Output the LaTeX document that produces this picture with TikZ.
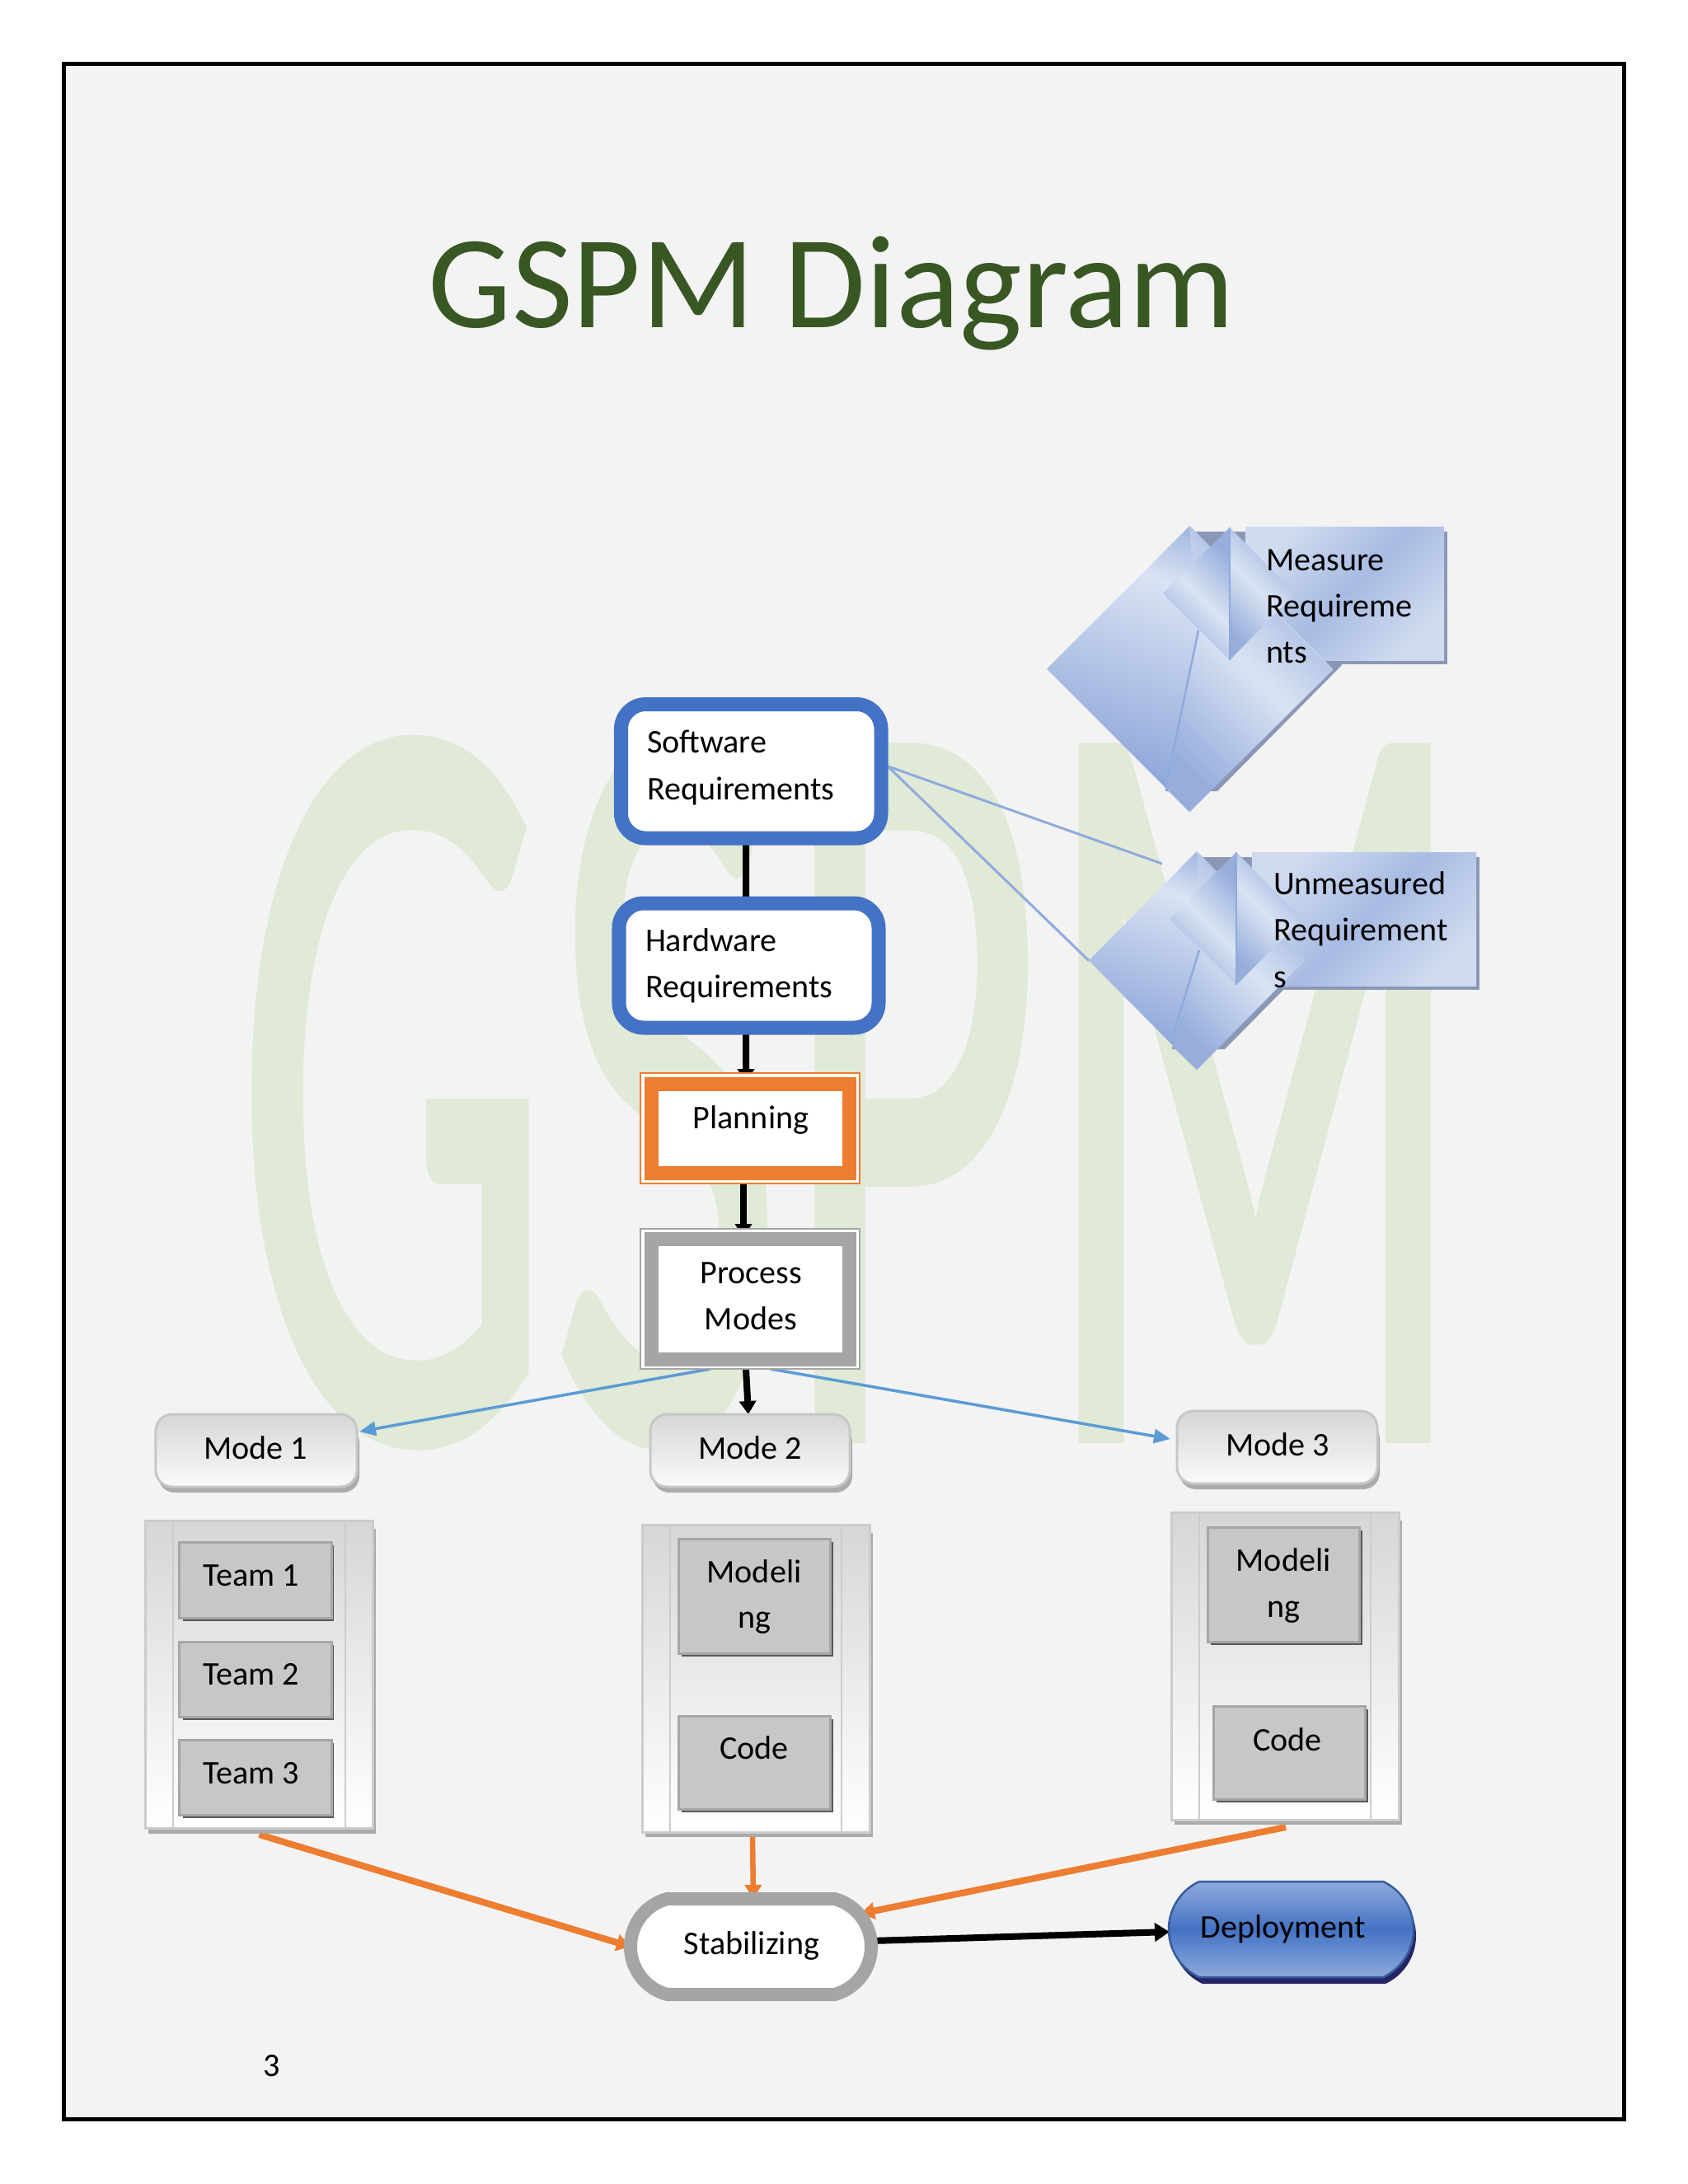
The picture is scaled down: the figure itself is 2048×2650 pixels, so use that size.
\documentclass[tikz,border=0pt]{standalone}
\usepackage{fontspec}
\setmainfont{Carlito}
\usetikzlibrary{arrows.meta,calc,shapes.geometric,shapes.misc}
\pgfdeclarelayer{bg}\pgfdeclarelayer{arrows}\pgfsetlayers{bg,arrows,main}
\definecolor{pagebg}{HTML}{F3F3F4}
\definecolor{wm}{HTML}{E0EAD7}
\definecolor{titlec}{HTML}{385723}
\definecolor{bluebd}{HTML}{4472C4}
\definecolor{orng}{HTML}{ED7D31}
\definecolor{gry}{HTML}{A5A5A5}
\definecolor{dlt}{HTML}{DAE3F3}
\definecolor{ddk}{HTML}{97AEDD}
\definecolor{dend}{HTML}{8AA3D9}
\definecolor{dsh}{HTML}{8A98B5}
\definecolor{lnk}{HTML}{8FAADC}
\definecolor{arrb}{HTML}{5B9BD5}
\pgfdeclareverticalshading{dleft}{100bp}{color(0bp)=(dend); color(27bp)=(dend); color(63bp)=(dlt); color(75bp)=(ddk); color(100bp)=(ddk)}
\newcommand{\bx}[6]{\pgfmathsetmacro\bw{(#5-#3)*0.01}\pgfmathsetmacro\bh{(#6-#4)*0.01}\node[#1,minimum width=\bw cm,minimum height=\bh cm] (#2) at ({(#3+#5)/2},{(#4+#6)/2}) {};}
\newcommand{\tx}[5]{\node[txt,anchor=#2] (#1) at (#3,#4) {#5};}
\tikzset{
  base/.style={inner sep=0pt,outer sep=0pt,rectangle},
  txt/.style={inner sep=0pt,outer sep=0pt,font=\fontsize{11.4}{16}\selectfont},
  reqbox/.style={base,draw=bluebd,line width=0.17cm,fill=white,rounded corners=0.3cm},
  thinor/.style={base,draw=orng,line width=0.02cm,fill=white},
  thingr/.style={base,draw=gry,line width=0.02cm,fill=white},
  modebox/.style={base,draw=black!22,line width=0.03cm,rounded corners=0.2cm,top color=black!16,bottom color=black!2},
  modeshad/.style={fill=black!33,rounded corners=0.2cm},
  cont/.style={base,draw=black!20,line width=0.03cm,top color=black!16,bottom color=white},
  contshad/.style={fill=black!33},
  cell/.style={base,draw=black!35,line width=0.03cm,fill=black!22},
  cellshad/.style={fill=black!65},
  band/.style={top color=ddk,bottom color=ddk,middle color=dlt,shading angle=#1},
  rectd/.style={base,top color=dlt!85!ddk,bottom color=dlt!85!ddk,middle color=ddk!75!dlt,shading angle=45},
  dia/.style={diamond,inner sep=0pt,outer sep=0pt,draw=none,shading=dleft,shading angle=-20},
  darrow/.style={line width=0.08cm,-{Triangle[width=0.2cm,length=0.16cm]}},
  barrow/.style={draw=arrb,line width=0.035cm,-{Triangle[width=0.17cm,length=0.2cm]}},
  oarrow/.style={draw=orng,line width=0.08cm,-{Triangle[width=0.2cm,length=0.17cm]}},
  link/.style={draw=lnk,line width=0.03cm},
}
\begin{document}
\begin{tikzpicture}[x=0.01cm,y=-0.01cm]
\useasboundingbox (0,0) rectangle (2048,2650);
\begin{pgfonlayer}{bg}
\fill[white] (0,0) rectangle (2048,2650);
\bx{base,draw=black,line width=0.05cm,fill=pagebg}{frame}{78}{78}{1970}{2571}
\node[inner sep=0pt,anchor=base,text=wm,xscale=3.6,yscale=7.7,transform shape,font=\fontsize{48}{48}\selectfont\addfontfeatures{FakeBold=1.2}] (water) at (1034,1743) {GSPM};
\end{pgfonlayer}
\node[txt,anchor=base,text=titlec,font=\fontsize{45.7}{46}\selectfont] (title) at (1009,397) {GSPM Diagram};

% requirements
\bx{reqbox}{sw}{753.5}{854.5}{1069}{1017}
\tx{swt}{base west}{785}{913}{Software}
\tx{swt2}{base west}{785}{970}{Requirements}
\bx{reqbox}{hw}{751}{1096}{1066}{1247}
\tx{hwt}{base west}{783}{1154}{Hardware}
\tx{hwt2}{base west}{783}{1210}{Requirements}
% planning
\bx{thinor}{pl}{777}{1302}{1043}{1436}
\draw[draw=orng,line width=0.17cm] (790,1315) rectangle (1030,1423);
\tx{plt}{base}{911}{1369}{Planning}
% process
\bx{thingr}{pr}{777}{1491}{1043}{1661}
\draw[draw=gry,line width=0.17cm] (790,1503) rectangle (1030,1649);
\tx{prt}{base}{911}{1557}{Process}
\tx{prt2}{base}{911}{1613}{Modes}

% diamonds 1
\fill[dsh] (1451,645) -- (1511,645) -- (1628,807) -- (1477,960) -- (1414,960) -- cycle;
\fill[dsh] (1515,645) rectangle (1756,806);
\node[rectd,minimum width=2.41cm,minimum height=1.61cm] (r1) at (1631.5,720.5) {};
\bx{dia,shape aspect=1.0}{d1}{1270}{638}{1617}{985}
\path[band=-45] (1443,638) -- (1617,813) -- (1443,985) -- (1414,956) -- (1454,765) -- cycle;
\path[band=-45] (1411,720) -- (1492,640) -- (1492,801) -- cycle;
\path[band=-45] (1492,640) -- (1571,720) -- (1492,801) -- cycle;
\draw[draw=lnk,line width=0.02cm] (1492,640) -- (1492,801);
\draw[draw=lnk,line width=0.025cm] (1454,765) -- (1414,956);
\tx{d1t}{base west}{1536}{692}{Measure}
\tx{d1t2}{base west}{1536}{748}{Requireme}
\tx{d1t3}{base west}{1536}{804}{nts}

% diamonds 2
\fill[dsh] (1460,1040) -- (1519,1040) -- (1558,1200) -- (1486,1273) -- (1422,1273) -- cycle;
\fill[dsh] (1523,1040) rectangle (1795,1201);
\node[rectd,minimum width=2.72cm,minimum height=1.61cm] (r2) at (1655,1115.5) {};
\bx{dia,shape aspect=1.0}{d2}{1321}{1033}{1583}{1298}
\path[band=-45] (1452,1033) -- (1583,1165) -- (1452,1298) -- (1423,1270) -- (1455,1153) -- cycle;
\path[band=-45] (1419,1115) -- (1500,1034) -- (1500,1195) -- cycle;
\path[band=-45] (1500,1034) -- (1580,1115) -- (1500,1195) -- cycle;
\draw[draw=lnk,line width=0.02cm] (1500,1034) -- (1500,1195);
\draw[draw=lnk,line width=0.025cm] (1455,1153) -- (1423,1256);
\tx{d2t}{base west}{1545}{1085}{Unmeasured}
\tx{d2t2}{base west}{1545}{1141}{Requirement}
\tx{d2t3}{base west}{1545}{1198}{s}

% modes
\fill[modeshad] (192,1730) rectangle (436,1811);
\bx{modebox}{m1}{189}{1716}{433}{1804}
\tx{m1t}{base}{310}{1770}{Mode 1}
\fill[modeshad] (792,1730) rectangle (1034,1811);
\bx{modebox}{m2}{789}{1716}{1031}{1804}
\tx{m2t}{base}{910}{1770}{Mode 2}
\fill[modeshad] (1431,1726) rectangle (1674,1807);
\bx{modebox}{m3}{1428}{1712}{1671}{1800}
\tx{m3t}{base}{1550}{1766}{Mode 3}

% container 1
\fill[contshad] (180,1855) rectangle (456,2225);
\bx{cont}{c1}{177}{1845}{452}{2218}
\draw[draw=black!20,line width=0.02cm] (210,1845) -- (210,2218) (419,1845) -- (419,2218);
\fill[cellshad] (222,1875) rectangle (405,1967);
\bx{cell}{t1}{218}{1871}{402}{1963}
\tx{t1t}{base}{305}{1924}{Team 1}
\fill[cellshad] (222,1996) rectangle (405,2087);
\bx{cell}{t2}{218}{1992}{402}{2083}
\tx{t2t}{base}{305}{2044}{Team 2}
\fill[cellshad] (222,2115) rectangle (405,2206);
\bx{cell}{t3}{218}{2111}{402}{2202}
\tx{t3t}{base}{305}{2164}{Team 3}

% container 2
\fill[contshad] (783,1860) rectangle (1059,2229);
\bx{cont}{c2}{779}{1850}{1055}{2223}
\draw[draw=black!20,line width=0.02cm] (813,1850) -- (813,2223) (1021,1850) -- (1021,2223);
\fill[cellshad] (827,1871) rectangle (1011,2010);
\bx{cell}{mo2}{823}{1867}{1007}{2006}
\tx{mo2t}{base}{915}{1920}{Modeli}
\tx{mo2t2}{base}{915}{1975}{ng}
\fill[cellshad] (827,2086) rectangle (1011,2199);
\bx{cell}{co2}{823}{2082}{1007}{2195}
\tx{co2t}{base}{915}{2134}{Code}

% container 3
\fill[contshad] (1425,1845) rectangle (1701,2214);
\bx{cont}{c3}{1421}{1835}{1697}{2208}
\draw[draw=black!20,line width=0.02cm] (1455,1835) -- (1455,2208) (1663,1835) -- (1663,2208);
\fill[cellshad] (1469,1857) rectangle (1653,1996);
\bx{cell}{mo3}{1465}{1853}{1649}{1992}
\tx{mo3t}{base}{1557}{1906}{Modeli}
\tx{mo3t2}{base}{1557}{1962}{ng}
\fill[cellshad] (1476,2074) rectangle (1660,2187);
\bx{cell}{co3}{1472}{2070}{1656}{2183}
\tx{co3t}{base}{1562}{2124}{Code}

% stabilizing / deployment
\bx{rounded rectangle,rounded rectangle arc length=150,inner sep=0pt,outer sep=0pt,draw=gry,line width=0.16cm,fill=white}{st}{765}{2304}{1057}{2420}
\tx{stt}{base}{912}{2371}{Stabilizing}
\bx{rounded rectangle,rounded rectangle arc length=130,inner sep=0pt,outer sep=0pt,fill=blue!30!black!85}{dps}{1422}{2291}{1718}{2407}
\bx{rounded rectangle,rounded rectangle arc length=130,inner sep=0pt,outer sep=0pt,draw=bluebd!80!black,line width=0.025cm,top color=lnk,bottom color=lnk,middle color=bluebd}{dp}{1418}{2283}{1715}{2399}
\tx{dpt}{base}{1557}{2351}{Deployment}
\tx{pg}{base}{330}{2519}{3}

% connectors
\coordinate (free1) at (1410,1048);
\begin{pgfonlayer}{arrows}
\draw[darrow] ([xshift=-0.06cm]sw.south) -- ([xshift=-0.035cm,yshift=-0.14cm]hw.north);
\draw[darrow] ([xshift=-0.035cm]hw.south) -- ([xshift=-0.05cm,yshift=-0.11cm]pl.north);
\draw[darrow] ([xshift=-0.08cm]pl.south) -- ([xshift=-0.08cm,yshift=-0.1cm]pr.north);
\draw[darrow] ([xshift=-0.05cm]pr.south) -- ([xshift=-0.02cm]m2.north);
\draw[barrow] ([xshift=-0.48cm]pr.south) -- ([xshift=0.03cm,yshift=0.23cm]m1.east);
\draw[barrow] ([xshift=0.25cm]pr.south) -- ([xshift=-0.08cm,yshift=0.1cm]m3.west);
\draw[link] ([yshift=0.06cm,xshift=0.08cm]sw.east) -- (free1);
\draw[link] ([yshift=0.06cm,xshift=0.08cm]sw.east) -- (d2.west);
\draw[oarrow] ([yshift=-0.08cm]c1.south) -- (st.west);
\draw[oarrow,line width=0.065cm] ([xshift=-0.04cm,yshift=-0.03cm]c2.south) -- ([xshift=0.03cm]st.north);
\draw[oarrow] ([xshift=0.01cm,yshift=-0.09cm]c3.south) -- ([xshift=-0.13cm,yshift=0.4cm]st.east);
\draw[darrow,-{Triangle[width=0.22cm,length=0.18cm]}] ([yshift=0.07cm]st.east) -- ([xshift=0.01cm,yshift=-0.03cm]dp.west);
\end{pgfonlayer}
\end{tikzpicture}
\end{document}
